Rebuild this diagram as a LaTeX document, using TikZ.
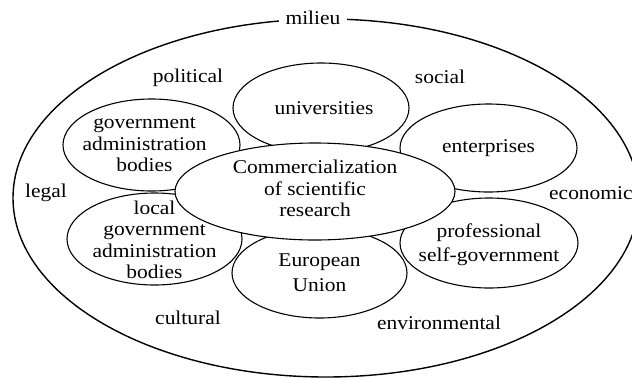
\documentclass[tikz,border=0pt]{standalone}
\usepackage{fontspec}
\setmainfont{Liberation Serif}[FakeStretch=1.1]
\usetikzlibrary{shapes.geometric}
\begin{document}
\begin{tikzpicture}[x=1pt,y=-1pt,
  blob/.style={draw, line width=1.1pt, ellipse, inner sep=0pt},
  hub/.style={blob, fill=white},
  txt/.style={font=\fontsize{19.5pt}{21.5pt}\selectfont, align=center, inner sep=0pt},
  widetxt/.style={txt, font=\fontsize{19.5pt}{24.5pt}\selectfont},
  frame/.style={draw, line width=1.4pt, ellipse, inner sep=0pt}]
\useasboundingbox (0,0) rectangle (632,378);
% outer milieu ellipse
\node[frame, minimum width=626pt, minimum height=358pt] (outer) at (326,198) {};
\node[txt, fill=white, inner xsep=7pt, inner ysep=3pt] (milieu) at (313,18) {milieu};
% surrounding ellipses
\node[blob, minimum width=177pt, minimum height=92pt] (ga) at (151.5,145) {};
\node[blob, minimum width=176pt, minimum height=90pt] (uni) at (321,108) {};
\node[blob, minimum width=177pt, minimum height=88pt] (ent) at (488.5,148) {};
\node[blob, minimum width=175pt, minimum height=92pt] (lg) at (154.5,239) {};
\node[blob, minimum width=178pt, minimum height=90pt] (prof) at (489,243) {};
\node[blob, minimum width=175pt, minimum height=90pt] (eu) at (319.5,273) {};
% central ellipse
\node[hub, minimum width=280pt, minimum height=97pt] (csr) at (315,191.5) {};
% texts inside ellipses
\node[txt] (gat) at ([xshift=-7pt]ga.center) {government\\administration\\bodies};
\node[txt] (unit) at (324,108) {universities};
\node[txt] (entt) at (ent.center) {enterprises};
\node[txt] (lgt) at ([yshift=-1pt]lg.center) {local\\government\\administration\\bodies};
\node[widetxt] (proft) at ([yshift=-1.5pt]prof.center) {professional\\self-government};
\node[widetxt] (eut) at ([yshift=0.5pt]eu.center) {European\\Union};
\node[txt] (csrt) at ([yshift=3pt]csr.center) {Commercialization\\of scientific\\research};
% milieu labels
\node[txt] (political) at (188,78) {political};
\node[txt] (social) at (440,77) {social};
\node[txt] (legal) at (46,193) {legal};
\node[txt, anchor=west] (economic) at (549,193) {economic};
\node[txt] (cultural) at (188,318) {cultural};
\node[txt] (environmental) at (439,323) {environmental};
\end{tikzpicture}
\end{document}
